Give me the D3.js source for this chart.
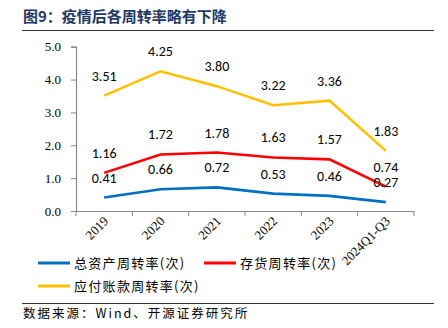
<!DOCTYPE html>
<html><head><meta charset="utf-8">
<script src="https://cdn.jsdelivr.net/npm/d3@7"></script>
<style>body{margin:0;background:#fff}svg{display:block}</style>
</head><body>
<svg id="c" width="448" height="328"></svg>
<script>
const categories = ["2019","2020","2021","2022","2023","2024Q1-Q3"];
const totalAssetTurnover = [0.41,0.66,0.72,0.53,0.46,0.27];
const inventoryTurnover = [1.16,1.72,1.78,1.63,1.57,0.74];
const payablesTurnover = [3.51,4.25,3.80,3.22,3.36,1.83];
const yTicks = [0,1,2,3,4,5];
const seriesNames = ["总资产周转率(次)","存货周转率(次)","应付账款周转率(次)"];
const colors = ["#0070C0","#FF0000","#FFC000"];
const titleText = "图9：疫情后各周转率略有下降";
const sourceText = "数据来源：Wind、开源证券研究所";

const svg = d3.select("#c");
const serif = "'Liberation Serif','Times New Roman',serif";
const cjk = "'Noto Sans CJK SC',sans-serif";

svg.append("text").attr("x",23).attr("y",22).text(titleText)
  .attr("font-family",cjk).attr("font-weight","bold").attr("font-size",15).attr("fill","#1F3864");
svg.append("line").attr("x1",22).attr("x2",434).attr("y1",30.5).attr("y2",30.5).attr("stroke","#333").attr("stroke-width",1);

const x = d3.scaleBand().domain(categories).range([76,414]);
const y = d3.scaleLinear().domain([0,5]).range([211,46.7]);

const xAxis = svg.append("g").attr("transform","translate(0,211)")
  .call(d3.axisBottom(x).tickSize(0).tickFormat(""));
xAxis.select(".domain").attr("stroke","#888").attr("stroke-width",1.2);
const edges = categories.map(c=>x(c)).concat([x.range()[1]]);
svg.append("g").selectAll("line").data(edges).join("line")
  .attr("x1",d=>d).attr("x2",d=>d).attr("y1",211).attr("y2",216).attr("stroke","#888");
svg.append("g").selectAll("text").data(categories).join("text")
  .attr("transform",d=>`translate(${x(d)+x.bandwidth()/2+5},${222}) rotate(-45)`)
  .attr("text-anchor","end").attr("font-family",serif).attr("font-size",13).attr("fill","#000").text(d=>d);

const yAxis = svg.append("g").attr("transform","translate(76,0)")
  .call(d3.axisLeft(y).tickValues(yTicks).tickSize(5).tickPadding(10).tickFormat(d3.format(".1f")));
yAxis.select(".domain").attr("stroke","#888").attr("stroke-width",1.2);
yAxis.selectAll(".tick line").attr("stroke","#888");
yAxis.selectAll("text").attr("font-family",serif).attr("font-size",13).attr("fill","#000");

const data = [totalAssetTurnover, inventoryTurnover, payablesTurnover];
const line = d3.line().x((d,i)=>x(categories[i])+x.bandwidth()/2).y(d=>y(d));
data.forEach((s,k)=>{
  svg.append("path").attr("d",line(s)).attr("fill","none").attr("stroke",colors[k]).attr("stroke-width",2.6);
});
data.forEach((s,k)=>{
  svg.append("g").selectAll("text").data(s).join("text")
    .attr("x",(d,i)=>x(categories[i])+x.bandwidth()/2)
    .attr("y",d=>y(d)-15)
    .attr("text-anchor","middle").attr("font-family","Carlito,Lato,'Open Sans',sans-serif").attr("font-size",14).attr("fill","#000")
    .text(d=>d.toFixed(2));
});

const leg = [[38,263],[204,263],[38,286]];
seriesNames.forEach((n,k)=>{
  const [lx,ly]=leg[k];
  svg.append("line").attr("x1",lx).attr("x2",lx+32).attr("y1",ly).attr("y2",ly).attr("stroke",colors[k]).attr("stroke-width",3);
  svg.append("text").attr("x",lx+36).attr("y",ly+5).attr("font-family",cjk).attr("font-size",13)
    .attr("letter-spacing",1.3).attr("fill","#000").text(n);
});

svg.append("line").attr("x1",22).attr("x2",434).attr("y1",303.5).attr("y2",303.5).attr("stroke","#333").attr("stroke-width",1);
svg.append("text").attr("x",23).attr("y",318).attr("font-family",cjk).attr("font-size",12.5)
  .attr("letter-spacing",2).attr("fill","#000").text(sourceText);
</script>
</body></html>
